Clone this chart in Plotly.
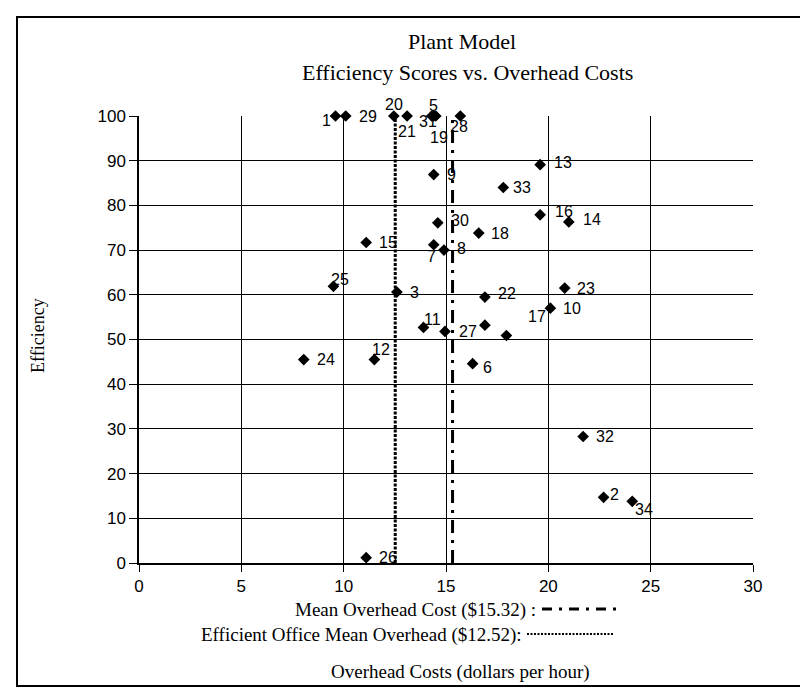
import plotly.graph_objects as go

# ---------------- data ----------------
office = [str(i) for i in range(1, 35)]
overhead = [9.6, 22.7, 12.6, 16.9, 14.4, 16.3, 14.4, 14.9, 14.4, 20.1,
            13.9, 11.5, 19.6, 21.0, 11.1, 19.6, 17.95, 16.6, 14.5, 12.45,
            13.1, 16.9, 20.8, 8.05, 9.5, 11.1, 14.95, 15.7, 10.1, 14.6,
            14.3, 21.7, 17.8, 24.1]
efficiency = [100, 14.7, 60.6, 53.2, 100, 44.6, 71.2, 70.0, 86.9, 57.0,
              52.7, 45.5, 89.1, 76.3, 71.7, 77.9, 50.9, 73.8, 100, 100,
              100, 59.5, 61.5, 45.5, 61.9, 1.2, 51.8, 100, 100, 76.1,
              100, 28.3, 84.0, 13.8]
shown_labels = [o for o in office if o != "4"]

mean_overhead = 15.32
efficient_mean_overhead = 12.52
efficiency_range = [0, 100]

x_ticks = [0, 5, 10, 15, 20, 25, 30]
y_ticks = [0, 10, 20, 30, 40, 50, 60, 70, 80, 90, 100]

# ---------------- label offsets (style, px: dx right, dy down) ----------------
label_offsets = {
    "1": (-9, 4), "2": (11, -3), "3": (18, 0), "5": (0, -11), "6": (15, 4),
    "7": (-2, 12), "8": (18, -2), "9": (18, 0), "10": (22, 0), "11": (9, -8),
    "12": (7, -10), "13": (23, -2), "14": (23, -2), "15": (22, 0), "16": (24, -3),
    "17": (31, -19), "18": (21, 0), "19": (3, 21), "20": (0, -12), "21": (0, 15),
    "22": (22, -4), "23": (21, 0), "24": (22, 0), "25": (7, -7), "26": (22, 0),
    "27": (23, 0), "28": (-1, 10), "29": (22, 0), "30": (22, -2), "31": (-4, 5),
    "32": (22, 0), "33": (19, 0), "34": (12, 8),
}

SERIF = "Liberation Serif, Times New Roman, serif"
SANS = "Liberation Sans, Arial, sans-serif"

W, H = 808, 689
L, R, T, B = 131, 63, 108, 134
PW, PH = W - L - R, H - T - B


def px_to_paper_x(px):
    return (px - L) / PW


def px_to_paper_y(py):
    return (H - B - py) / PH


fig = go.Figure()

# reference lines
fig.add_trace(go.Scatter(
    x=[efficient_mean_overhead] * 2, y=efficiency_range, mode="lines",
    line=dict(color="black", width=3, dash="3px,1.5px"),
    hoverinfo="skip", showlegend=False, cliponaxis=False))
fig.add_trace(go.Scatter(
    x=[mean_overhead] * 2, y=efficiency_range, mode="lines",
    line=dict(color="black", width=3, dash="13px,7px,3px,7px"),
    hoverinfo="skip", showlegend=False, cliponaxis=False))

# points
fig.add_trace(go.Scatter(
    x=overhead, y=efficiency, mode="markers",
    marker=dict(symbol="diamond", size=9, color="black"),
    text=office, showlegend=False, cliponaxis=False))

annotations = []
for o, xv, yv in zip(office, overhead, efficiency):
    if o not in shown_labels:
        continue
    dx, dy = label_offsets[o]
    annotations.append(dict(
        x=xv, y=yv, xref="x", yref="y", text=o, showarrow=False,
        xanchor="center", yanchor="middle", xshift=dx, yshift=-dy,
        font=dict(family=SANS, size=16, color="black")))

# titles
annotations.append(dict(text="Plant Model", x=px_to_paper_x(454), y=px_to_paper_y(34),
                        xref="paper", yref="paper", showarrow=False,
                        xanchor="center", yanchor="middle",
                        font=dict(family=SERIF, size=22, color="black")))
annotations.append(dict(text="Efficiency Scores vs. Overhead Costs", x=px_to_paper_x(459),
                        y=px_to_paper_y(64), xref="paper", yref="paper", showarrow=False,
                        xanchor="center", yanchor="middle",
                        font=dict(family=SERIF, size=22, color="black")))
annotations.append(dict(text="Efficiency", x=px_to_paper_x(30), y=px_to_paper_y(328),
                        xref="paper", yref="paper", showarrow=False, textangle=-90,
                        xanchor="center", yanchor="middle",
                        font=dict(family=SERIF, size=18, color="black")))
annotations.append(dict(text="Overhead Costs (dollars per hour)", x=px_to_paper_x(452),
                        y=px_to_paper_y(664), xref="paper", yref="paper", showarrow=False,
                        xanchor="center", yanchor="middle",
                        font=dict(family=SERIF, size=19, color="black")))
annotations.append(dict(text="Mean Overhead Cost ($15.32) :", x=px_to_paper_x(530),
                        y=px_to_paper_y(602), xref="paper", yref="paper", showarrow=False,
                        xanchor="right", yanchor="middle",
                        font=dict(family=SERIF, size=19, color="black")))
annotations.append(dict(text="Efficient Office Mean Overhead ($12.52):", x=px_to_paper_x(516),
                        y=px_to_paper_y(627), xref="paper", yref="paper", showarrow=False,
                        xanchor="right", yanchor="middle",
                        font=dict(family=SERIF, size=19, color="black")))

shapes = [
    dict(type="rect", xref="paper", yref="paper",
         x0=px_to_paper_x(9), x1=px_to_paper_x(804),
         y0=px_to_paper_y(678), y1=px_to_paper_y(9),
         line=dict(color="black", width=2), layer="below"),
    dict(type="line", xref="paper", yref="paper",
         x0=px_to_paper_x(534), x1=px_to_paper_x(608),
         y0=px_to_paper_y(601), y1=px_to_paper_y(601),
         line=dict(color="black", width=3, dash="10px,7px,3px,7px")),
    dict(type="line", xref="paper", yref="paper",
         x0=px_to_paper_x(519), x1=px_to_paper_x(605),
         y0=px_to_paper_y(626), y1=px_to_paper_y(626),
         line=dict(color="black", width=2, dash="2px,1.5px")),
]

fig.update_layout(
    width=W, height=H,
    margin=dict(l=L, r=R, t=T, b=B, pad=0),
    paper_bgcolor="white", plot_bgcolor="white",
    annotations=annotations, shapes=shapes,
    xaxis=dict(range=[0, 30], tickvals=x_ticks, showgrid=True, gridcolor="black",
               gridwidth=1, showline=True, linecolor="black", linewidth=1.5,
               ticks="outside", ticklen=7, tickcolor="black", zeroline=False,
               tickfont=dict(family=SANS, size=17, color="black")),
    yaxis=dict(range=[0, 100], tickvals=y_ticks, showgrid=True, gridcolor="black",
               gridwidth=1, showline=True, linecolor="black", linewidth=1.5,
               ticks="outside", ticklen=8, tickcolor="black", zeroline=False,
               tickfont=dict(family=SANS, size=17, color="black")),
    hovermode="closest",
)

fig.write_html("out.html")
